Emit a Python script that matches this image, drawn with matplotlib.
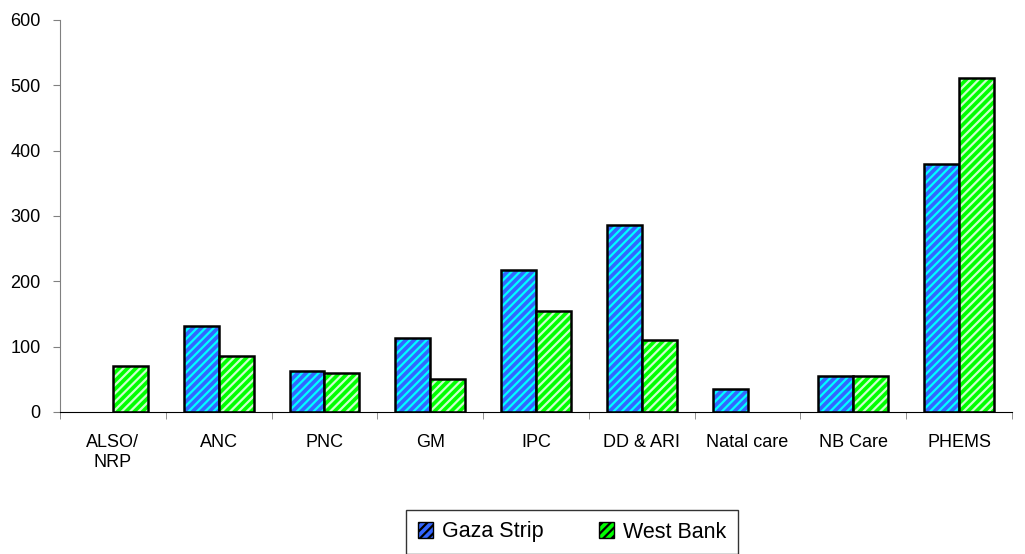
import numpy as np
import matplotlib
matplotlib.use("Agg")
import matplotlib.pyplot as plt
from matplotlib.patches import Patch

plt.rcParams['font.family'] = ['Liberation Sans', 'DejaVu Sans']
plt.rcParams['hatch.linewidth'] = 1.6

categories = ["ALSO/\nNRP", "ANC", "PNC", "GM", "IPC", "DD & ARI", "Natal care", "NB Care", "PHEMS"]
gaza = [0, 132, 63, 113, 217, 286, 35, 55, 380]
west_bank = [70, 86, 59, 50, 154, 110, 0, 55, 511]
series_names = ["Gaza Strip", "West Bank"]

fig = plt.figure(figsize=(10.25, 5.54), dpi=100)
ax = fig.add_axes([60 / 1025, 142 / 554, 952 / 1025, 392 / 554])

x = np.arange(len(categories))
w = 0.33

styles = [("#3366FF", "#00FFFF"), ("#00FF00", "#CCFFCC")]
for i, vals in enumerate([gaza, west_bank]):
    face, stripe = styles[i]
    pos = x + (i - 0.5) * w
    v = np.array(vals, dtype=float)
    mask = v > 0
    ax.bar(pos[mask], v[mask], w, color=face, edgecolor=stripe, hatch="////", linewidth=0)
    ax.bar(pos[mask], v[mask], w, fill=False, edgecolor="black", linewidth=1.8)

ax.set_xlim(-0.5, len(categories) - 0.5)
ax.set_ylim(0, 600)
ax.set_yticks(range(0, 601, 100))
ax.tick_params(axis='y', labelsize=13, length=5, color="#808080", pad=9)
ax.set_xticks(x)
ax.set_xticklabels(categories, fontsize=13)
ax.set_xticks(np.arange(-0.5, len(categories) - 0.4, 1), minor=True)
ax.tick_params(axis='x', which='major', length=0, pad=16)
ax.tick_params(axis='x', which='minor', length=5, color="#808080")

ax.spines['top'].set_visible(False)
ax.spines['right'].set_visible(False)
ax.spines['left'].set_color("#808080")
ax.spines['bottom'].set_color("black")

handles = [Patch(facecolor=styles[i][0], edgecolor="black", hatch="////", label=series_names[i])
           for i in range(2)]
leg = fig.legend(handles=handles, loc="center", bbox_to_anchor=(572 / 1025, 1 - 532 / 554),
                 ncol=2, fontsize=15.5, frameon=True, fancybox=False, edgecolor="black",
                 handlelength=0.7, handleheight=0.7, handletextpad=0.4,
                 columnspacing=2.6, borderpad=0.55, borderaxespad=0)
leg.get_frame().set_linewidth(1.0)

plt.savefig("out.png", dpi=100)
plt.close()
